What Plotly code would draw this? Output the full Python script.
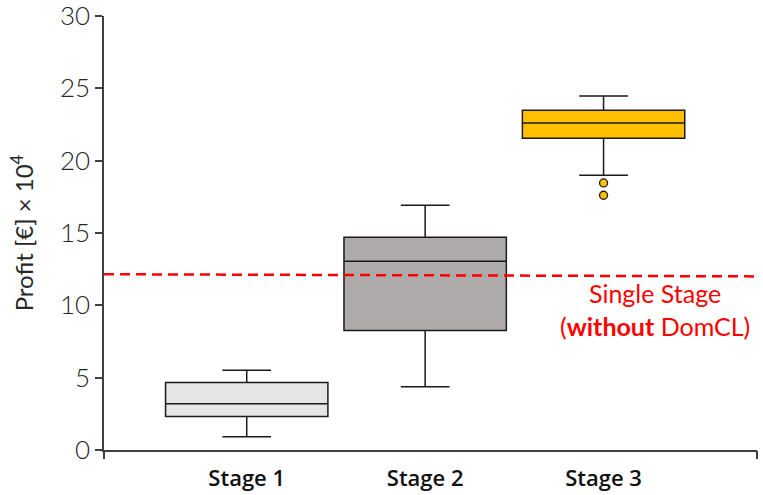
import plotly.graph_objects as go

# Profit distribution per stage (values in € × 10^4)
stages = ["Stage 1", "Stage 2", "Stage 3"]
lower_whisker = [0.92, 4.37, 18.99]
q1_values = [2.32, 8.26, 21.55]
medians = [3.20, 13.05, 22.60]
q3_values = [4.67, 14.71, 23.48]
upper_whisker = [5.52, 16.92, 24.47]
fill_colors = ["#e6e6e6", "#aeaaaa", "#ffc000"]

# Outliers below Stage 3's lower whisker
outlier_stage = ["Stage 3", "Stage 3"]
outlier_values = [18.46, 17.61]

# Single-stage reference level (without DomCL)
reference_x = [-0.80, 2.86]
reference_y = [12.15, 12.00]

x_range = [-0.80, 2.86]
pos = {s: i for i, s in enumerate(stages)}

fig = go.Figure()

for i, s in enumerate(stages):
    fig.add_trace(go.Box(
        x=[pos[s]],
        q1=[q1_values[i]],
        median=[medians[i]],
        q3=[q3_values[i]],
        lowerfence=[lower_whisker[i]],
        upperfence=[upper_whisker[i]],
        width=0.91,
        whiskerwidth=0.3,
        fillcolor=fill_colors[i],
        line=dict(color="#1a1a1a", width=1.5),
        boxpoints=False,
        showlegend=False,
        hoverinfo="skip",
    ))

fig.add_trace(go.Scatter(
    x=[pos[s] for s in outlier_stage],
    y=outlier_values,
    mode="markers",
    marker=dict(color="#ffc000", size=8, line=dict(color="#1a1a1a", width=1.3)),
    showlegend=False,
    hoverinfo="skip",
))

fig.add_trace(go.Scatter(
    x=reference_x,
    y=reference_y,
    mode="lines",
    line=dict(color="#ff0000", width=2.5, dash="10px,6px"),
    showlegend=False,
    hoverinfo="skip",
))

# Invisible trace that activates the overlay axis carrying the end ticks
fig.add_trace(go.Scatter(
    x=x_range, y=[None, None], xaxis="x2", mode="lines",
    showlegend=False, hoverinfo="skip",
))

fig.add_annotation(
    x=2.29, y=9.7, xref="x", yref="y",
    text="Single Stage<br>(<b>without</b> DomCL)",
    showarrow=False,
    font=dict(family="Lato", size=25, color="#ff0000"),
    align="center",
)

fig.update_layout(
    width=763, height=495,
    margin=dict(l=104, r=6, t=16, b=45),
    paper_bgcolor="white",
    plot_bgcolor="white",
    font=dict(family="Lato", color="#262626"),
    xaxis=dict(
        range=x_range,
        automargin=False,
        tickmode="array",
        tickvals=list(range(len(stages))),
        ticktext=stages,
        ticks="",
        ticklabelstandoff=8,
        ticklabeloverflow="allow",
        tickfont=dict(family="Open Sans", size=22, color="#111111", weight=600),
        showline=True, linecolor="#404040", linewidth=1.5,
        showgrid=False, zeroline=False,
    ),
    xaxis2=dict(
        overlaying="x",
        side="bottom",
        anchor="y",
        range=x_range,
        automargin=False,
        tickmode="array",
        tickvals=x_range,
        ticks="outside", ticklen=8, tickwidth=1.5, tickcolor="#404040",
        showticklabels=False,
        showline=False, showgrid=False, zeroline=False,
    ),
    yaxis=dict(
        range=[0, 30],
        automargin=False,
        tickmode="linear", tick0=0, dtick=5,
        ticks="outside", ticklen=7, tickwidth=1.5, tickcolor="#404040",
        ticklabeloverflow="allow",
        tickfont=dict(family="Lato", size=26, color="#262626", weight=300),
        showline=True, linecolor="#404040", linewidth=1.5,
        showgrid=False, zeroline=False,
        title=dict(text="Profit [€] × 10<sup>4</sup>",
                   font=dict(family="Lato", size=24, color="#262626"),
                   standoff=19),
    ),
)

fig.write_html("out.html")
